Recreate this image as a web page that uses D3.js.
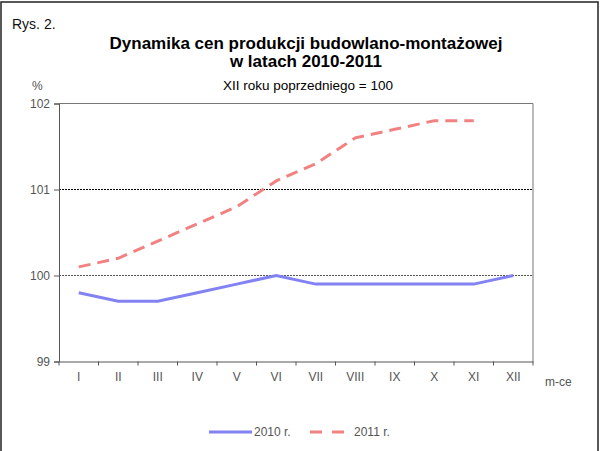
<!DOCTYPE html>
<html lang="pl">
<head>
<meta charset="UTF-8">
<title>Rys. 2</title>
<script src="https://cdn.jsdelivr.net/npm/d3@7"></script>
<style>
  body { margin: 0; background: #fff; }
  text { font-family: "Liberation Sans", Arial, sans-serif; }
</style>
</head>
<body>
<div id="container"></div>
<script>
var months = ["I", "II", "III", "IV", "V", "VI", "VII", "VIII", "IX", "X", "XI", "XII"];
var values2010 = [99.8, 99.7, 99.7, 99.8, 99.9, 100.0, 99.9, 99.9, 99.9, 99.9, 99.9, 100.0];
var values2011 = [100.1, 100.2, 100.4, 100.6, 100.8, 101.1, 101.3, 101.6, 101.7, 101.8, 101.8];
var yTicks = [99, 100, 101, 102];

var width = 600, height = 451;
var svg = d3.select("#container").append("svg")
    .attr("width", width)
    .attr("height", height);

// outer frame
svg.append("rect")
    .attr("x", 1).attr("y", 2)
    .attr("width", 597).attr("height", 460)
    .attr("fill", "none")
    .attr("stroke", "#222")
    .attr("stroke-width", 1.5);

var x = d3.scaleBand().domain(months).range([59, 533]);
var y = d3.scaleLinear().domain([99, 102]).range([361.5, 103.5]);

// gridlines (dotted)
svg.selectAll(".grid").data([100, 101])
  .enter().append("line")
    .attr("x1", 59).attr("x2", 533)
    .attr("y1", d => y(d)).attr("y2", d => y(d))
    .attr("stroke", (d) => d == 100 ? "#555" : "#000")
    .attr("stroke-width", 1)
    .attr("stroke-dasharray", "2,1");

// top and right plot frame
svg.append("path")
    .attr("d", "M59," + y(102) + "H533V" + y(99))
    .attr("fill", "none")
    .attr("stroke", "#777");

// y axis
var yAxis = svg.append("g")
    .attr("transform", "translate(59,0)")
    .call(d3.axisLeft(y).tickValues(yTicks).tickFormat(d3.format("d")).tickSize(5).tickPadding(4));
yAxis.select(".domain").attr("stroke", "#555");
yAxis.selectAll(".tick line").attr("stroke", "#555");
yAxis.selectAll("text").attr("font-size", 12).attr("fill", "#555")
    .style("font-family", "'Liberation Sans', Arial, sans-serif");

// x axis
var xAxis = svg.append("g")
    .attr("transform", "translate(0," + y(99) + ")")
    .call(d3.axisBottom(x).tickSize(0).tickPadding(11));
xAxis.select(".domain").attr("stroke", "#555");
xAxis.selectAll("text").attr("font-size", 12).attr("fill", "#555")
    .style("font-family", "'Liberation Sans', Arial, sans-serif");
var bounds = months.map(m => x(m)).concat([533]);
xAxis.selectAll(".bt").data(bounds)
  .enter().append("line")
    .attr("x1", d => d).attr("x2", d => d)
    .attr("y1", 0).attr("y2", 4)
    .attr("stroke", "#555");

svg.append("text").attr("x", 545).attr("y", 386)
    .attr("font-size", 12).attr("fill", "#555").text("m-ce");

// lines
var line = d3.line()
    .x((d, i) => x(months[i]) + x.bandwidth() / 2)
    .y(d => y(d));

svg.append("path").datum(values2010)
    .attr("d", line)
    .attr("fill", "none")
    .attr("stroke", "#8282f2")
    .attr("stroke-width", 3);

svg.append("path").datum(values2011)
    .attr("d", line)
    .attr("fill", "none")
    .attr("stroke", "#f28282")
    .attr("stroke-width", 3)
    .attr("stroke-dasharray", "12,7");

// titles
svg.append("text").attr("x", 12).attr("y", 29)
    .attr("font-size", 14).attr("fill", "#111").text("Rys. 2.");
svg.append("text").attr("x", 306).attr("y", 49)
    .attr("text-anchor", "middle").attr("font-size", 17).attr("font-weight", "bold")
    .text("Dynamika cen produkcji budowlano-montażowej");
svg.append("text").attr("x", 306).attr("y", 67)
    .attr("text-anchor", "middle").attr("font-size", 17).attr("font-weight", "bold")
    .text("w latach 2010-2011");
svg.append("text").attr("x", 308).attr("y", 90)
    .attr("text-anchor", "middle").attr("font-size", 13.5)
    .text("XII roku poprzedniego = 100");
svg.append("text").attr("x", 32).attr("y", 90)
    .attr("font-size", 12).attr("fill", "#555").text("%");

// legend
var lg = svg.append("g");
lg.append("line").attr("x1", 209).attr("x2", 252).attr("y1", 432).attr("y2", 432)
    .attr("stroke", "#8282f2").attr("stroke-width", 3);
lg.append("text").attr("x", 254).attr("y", 436).attr("font-size", 12).attr("fill", "#555").text("2010 r.");
lg.append("line").attr("x1", 310).attr("x2", 352).attr("y1", 432).attr("y2", 432)
    .attr("stroke", "#f28282").attr("stroke-width", 3).attr("stroke-dasharray", "12,10");
lg.append("text").attr("x", 354).attr("y", 436).attr("font-size", 12).attr("fill", "#555").text("2011 r.");
</script>
</body>
</html>
